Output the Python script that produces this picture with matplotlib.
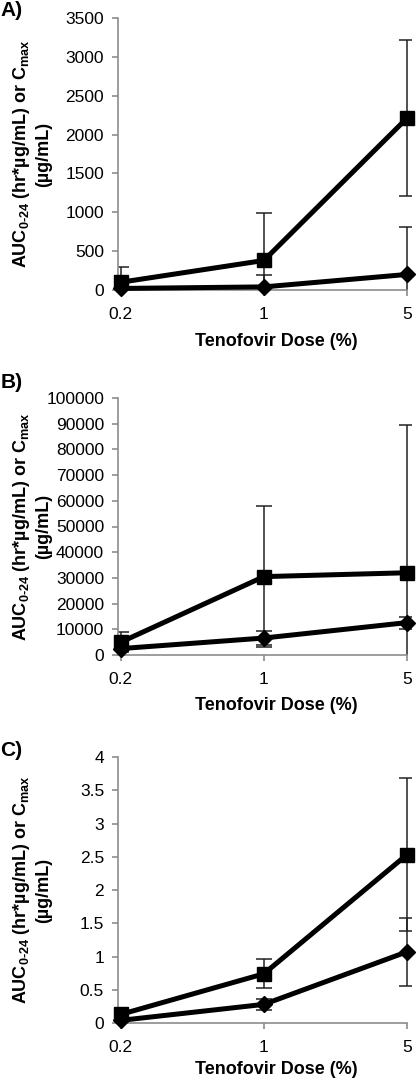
import matplotlib
matplotlib.use("Agg")
import matplotlib.pyplot as plt
from matplotlib.ticker import MultipleLocator, FormatStrFormatter

plt.rcParams['font.family'] = ['Liberation Sans', 'DejaVu Sans']
plt.rcParams['mathtext.fontset'] = 'custom'
plt.rcParams['mathtext.rm'] = 'Liberation Sans:bold'
plt.rcParams['mathtext.it'] = 'Liberation Sans:bold'
plt.rcParams['mathtext.bf'] = 'Liberation Sans:bold'

doses = ["0.2", "1", "5"]

# panel A
a_sq = [100, 380, 2210]
a_sq_err = [190, 610, 1005]
a_dia = [20, 40, 200]
a_dia_err = [15, 150, 615]

# panel B
b_sq = [5000, 30500, 32000]
b_sq_err = [4000, 27500, 57500]
b_dia = [2500, 6600, 12600]
b_dia_err = [800, 2600, 2300]

# panel C
c_sq = [0.13, 0.74, 2.53]
c_sq_err = [0.03, 0.22, 1.15]
c_dia = [0.04, 0.28, 1.07]
c_dia_err = [0.02, 0.08, 0.51]

W, H = 420, 1078
fig = plt.figure(figsize=(W / 100, H / 100), dpi=100)

gray = "#8c8c8c"
x = list(range(len(doses)))
px_unit = 143
x0 = -0.02
x1 = 2.03

panels = [
    ("A)", 18, 290, a_sq, a_sq_err, a_dia, a_dia_err, 3500, 500, 11, 333),
    ("B)", 398, 655, b_sq, b_sq_err, b_dia, b_dia_err, 100000, 10000, 382, 697),
    ("C)", 757, 1023, c_sq, c_sq_err, c_dia, c_dia_err, 4, 0.5, 750, 1061),
]

left_px = 118
for lab, top, bot, sq, sqe, dia, diae, ymax, step, lab_y, xl_top in panels:
    w_px = (x1 - x0) * px_unit
    ax = fig.add_axes([left_px / W, 1 - bot / H, w_px / W, (bot - top) / H])
    ax.errorbar(x, dia, yerr=diae, fmt="none", ecolor="#222222", elinewidth=1.1,
                capsize=6, capthick=1.1, zorder=2)
    ax.errorbar(x, sq, yerr=sqe, fmt="none", ecolor="#222222", elinewidth=1.1,
                capsize=6, capthick=1.1, zorder=2)
    ax.plot(x, dia, color="black", lw=3.6, marker="D", markersize=8.5,
            clip_on=False, zorder=3)
    ax.plot(x, sq, color="black", lw=3.6, marker="s", markersize=9.5,
            clip_on=False, zorder=4)
    ax.set_xlim(x0, x1)
    ax.set_ylim(0, ymax)
    ax.set_xticks(x)
    ax.set_xticklabels(doses)
    ax.yaxis.set_major_locator(MultipleLocator(step))
    ax.yaxis.set_major_formatter(FormatStrFormatter("%g"))
    for s in ["top", "right"]:
        ax.spines[s].set_visible(False)
    for s in ["left", "bottom"]:
        ax.spines[s].set_color(gray)
        ax.spines[s].set_linewidth(1.2)
    ax.spines["bottom"].set_bounds(x0, 2)
    ax.tick_params(axis="both", direction="out", length=4, width=1.2,
                   color=gray, labelsize=12.5)
    ax.tick_params(axis="x", pad=8)
    ax.tick_params(axis="y", pad=6)
    ax.set_xlabel("Tenofovir Dose (%)", fontsize=13, fontweight="bold")
    ax.xaxis.set_label_coords((276 - left_px) / w_px, (bot - xl_top) / (bot - top))
    mid = 1 - (top + bot) / 2 / H
    fig.text(22 / W, mid, r"AUC$_{0\text{-}24}$ (hr*µg/mL) or C$_{max}$", rotation=90,
             ha="center", va="center", fontsize=13, fontweight="bold")
    fig.text(44 / W, mid, "(µg/mL)", rotation=90, ha="center", va="center",
             fontsize=13, fontweight="bold")
    fig.text(0.5 / W, 1 - lab_y / H, lab, ha="left", va="center",
             fontsize=15, fontweight="bold")

fig.savefig("out.png", dpi=100)
